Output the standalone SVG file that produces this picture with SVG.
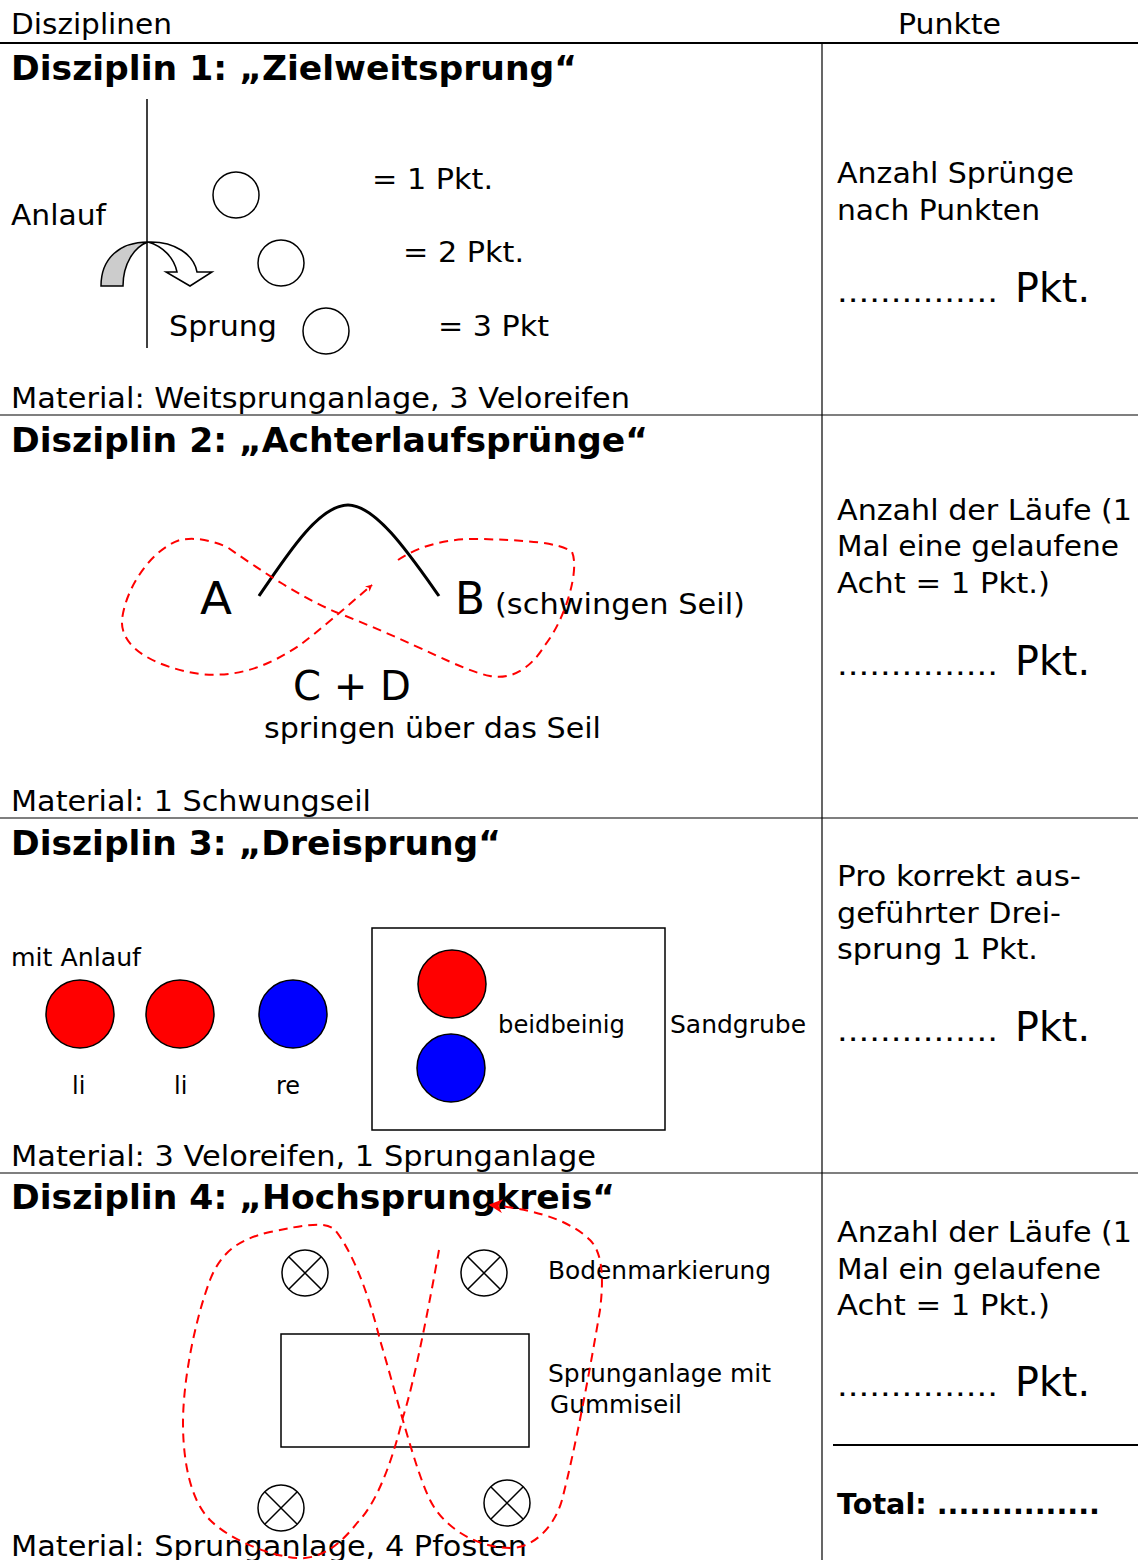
<svg xmlns="http://www.w3.org/2000/svg" width="1138" height="1560" viewBox="0 0 1138 1560">
<defs>
<style>
text{font-family:"DejaVu Sans","Verdana",sans-serif;fill:#000}
.hd{font-family:"DejaVu Sans Condensed","DejaVu Sans",sans-serif;font-size:28px}
.tt{font-weight:bold;font-size:33px}
.t{font-size:28px}
.s{font-size:24px}
.pk{font-size:40px}
.grid{stroke:#000;stroke-width:1.2;fill:none}
.ol{stroke:#000;stroke-width:1.5;fill:none}
.dash{stroke:#f00;stroke-width:2;fill:none;stroke-dasharray:9 6}
</style>
<marker id="ra" viewBox="0 0 10 10" refX="9" refY="5" markerWidth="7" markerHeight="7" markerUnits="userSpaceOnUse" orient="auto">
<path d="M0,0 L10,5 L0,10 L3,5 Z" fill="#f00"/>
</marker>
<marker id="rb" viewBox="0 0 10 10" refX="9" refY="5" markerWidth="14" markerHeight="14" markerUnits="userSpaceOnUse" orient="auto">
<path d="M0,0 L10,5 L0,10 L3,5 Z" fill="#f00"/>
</marker>
</defs>
<rect width="1138" height="1560" fill="#fff"/>

<g id="table">
<text class="hd" x="11" y="34" textLength="161" lengthAdjust="spacingAndGlyphs">Disziplinen</text>
<text class="hd" x="898" y="34" textLength="103" lengthAdjust="spacingAndGlyphs">Punkte</text>
<line x1="0" y1="43" x2="1138" y2="43" stroke="#000" stroke-width="2"/>
<line class="grid" x1="822" y1="43" x2="822" y2="1560"/>
<line class="grid" x1="0" y1="415" x2="1138" y2="415"/>
<line class="grid" x1="0" y1="818" x2="1138" y2="818"/>
<line class="grid" x1="0" y1="1173" x2="1138" y2="1173"/>
<line x1="833" y1="1445" x2="1138" y2="1445" stroke="#000" stroke-width="2"/>
</g>

<g id="disziplin1">
<text class="tt" x="11" y="80" textLength="566" lengthAdjust="spacingAndGlyphs">Disziplin 1: „Zielweitsprung“</text>
<line class="ol" x1="147" y1="99" x2="147" y2="348"/>
<circle class="ol" cx="236" cy="195" r="23"/>
<circle class="ol" cx="281" cy="263" r="23"/>
<circle class="ol" cx="326" cy="331" r="23"/>
<text class="t" x="372" y="189" textLength="121" lengthAdjust="spacingAndGlyphs">= 1 Pkt.</text>
<text class="t" x="403" y="262" textLength="121" lengthAdjust="spacingAndGlyphs">= 2 Pkt.</text>
<text class="t" x="438" y="336" textLength="111" lengthAdjust="spacingAndGlyphs">= 3 Pkt</text>
<text class="t" x="11" y="225" textLength="95" lengthAdjust="spacingAndGlyphs">Anlauf</text>
<text class="t" x="169" y="336" textLength="108" lengthAdjust="spacingAndGlyphs">Sprung</text>
<path d="M101,286 C101,258 120,242 148,242 C134,247 123,264 123,286 Z" fill="#ccc" stroke="#000" stroke-width="1.5"/>
<path d="M148,242 C175,241 194,255 197,272 L212,272 L190,286 L166,272 L177,272 C174,257 162,246 148,242 Z" fill="#fff" stroke="#000" stroke-width="1.5"/>
<text class="t" x="11" y="408" textLength="619" lengthAdjust="spacingAndGlyphs">Material: Weitsprunganlage, 3 Veloreifen</text>
</g>

<g id="disziplin2">
<text class="tt" x="11" y="452" textLength="637" lengthAdjust="spacingAndGlyphs">Disziplin 2: „Achterlaufsprünge“</text>
<path d="M259,596 C290,550 320,505 348,505 C376,505 410,555 439,596" fill="none" stroke="#000" stroke-width="3"/>
<text x="200" y="614" font-size="44" textLength="32" lengthAdjust="spacingAndGlyphs">A</text>
<text x="455" y="614" font-size="44" textLength="30" lengthAdjust="spacingAndGlyphs">B</text>
<text class="t" x="495" y="614" textLength="250" lengthAdjust="spacingAndGlyphs">(schwingen Seil)</text>
<text x="293" y="700" font-size="40" textLength="118" lengthAdjust="spacingAndGlyphs">C + D</text>
<text class="t" x="264" y="738" textLength="337" lengthAdjust="spacingAndGlyphs">springen über das Seil</text>
<text class="t" x="11" y="811" textLength="360" lengthAdjust="spacingAndGlyphs">Material: 1 Schwungseil</text>
</g>

<g id="disziplin3">
<text class="tt" x="11" y="855" textLength="490" lengthAdjust="spacingAndGlyphs">Disziplin 3: „Dreisprung“</text>
<text class="s" x="11" y="966" textLength="130" lengthAdjust="spacingAndGlyphs">mit Anlauf</text>
<circle cx="80" cy="1014" r="34" fill="#f00" stroke="#000" stroke-width="1.5"/>
<circle cx="180" cy="1014" r="34" fill="#f00" stroke="#000" stroke-width="1.5"/>
<circle cx="293" cy="1014" r="34" fill="#00f" stroke="#000" stroke-width="1.5"/>
<text class="s" x="72" y="1094">li</text>
<text class="s" x="174" y="1094">li</text>
<text class="s" x="276" y="1094">re</text>
<rect class="ol" x="372" y="928" width="293" height="202"/>
<circle cx="452" cy="984" r="34" fill="#f00" stroke="#000" stroke-width="1.5"/>
<circle cx="451" cy="1068" r="34" fill="#00f" stroke="#000" stroke-width="1.5"/>
<text class="s" x="498" y="1033" textLength="127" lengthAdjust="spacingAndGlyphs">beidbeinig</text>
<text class="s" x="670" y="1033" textLength="136" lengthAdjust="spacingAndGlyphs">Sandgrube</text>
<text class="t" x="11" y="1166" textLength="585" lengthAdjust="spacingAndGlyphs">Material: 3 Veloreifen, 1 Sprunganlage</text>
</g>

<g id="disziplin4">
<text class="tt" x="11" y="1209" textLength="604" lengthAdjust="spacingAndGlyphs">Disziplin 4: „Hochsprungkreis“</text>
<g class="ol">
<circle cx="305" cy="1273" r="23"/>
<path d="M289,1257 L321,1289 M321,1257 L289,1289"/>
<circle cx="484" cy="1273" r="23"/>
<path d="M468,1257 L500,1289 M500,1257 L468,1289"/>
<circle cx="281" cy="1508" r="23"/>
<path d="M265,1492 L297,1524 M297,1492 L265,1524"/>
<circle cx="507" cy="1503" r="23"/>
<path d="M491,1487 L523,1519 M523,1487 L491,1519"/>
</g>
<rect class="ol" x="281" y="1334" width="248" height="113"/>
<text class="s" x="548" y="1279" textLength="223" lengthAdjust="spacingAndGlyphs">Bodenmarkierung</text>
<text class="s" x="548" y="1382" textLength="223" lengthAdjust="spacingAndGlyphs">Sprunganlage mit</text>
<text class="s" x="550" y="1413" textLength="132" lengthAdjust="spacingAndGlyphs">Gummiseil</text>
<text class="t" x="11" y="1556" textLength="516" lengthAdjust="spacingAndGlyphs">Material: Sprunganlage, 4 Pfosten</text>
</g>

<g id="punkte">
<text class="t" x="837" y="183" textLength="237" lengthAdjust="spacingAndGlyphs">Anzahl Sprünge</text>
<text class="t" x="837" y="220" textLength="203" lengthAdjust="spacingAndGlyphs">nach Punkten</text>
<text class="t" x="837" y="302" textLength="161" lengthAdjust="spacingAndGlyphs">...............</text>
<text class="pk" x="1015" y="302" textLength="75" lengthAdjust="spacingAndGlyphs">Pkt.</text>
<text class="t" x="837" y="520" textLength="295" lengthAdjust="spacingAndGlyphs">Anzahl der Läufe (1</text>
<text class="t" x="837" y="556" textLength="282" lengthAdjust="spacingAndGlyphs">Mal eine gelaufene</text>
<text class="t" x="837" y="593" textLength="213" lengthAdjust="spacingAndGlyphs">Acht = 1 Pkt.)</text>
<text class="t" x="837" y="675" textLength="161" lengthAdjust="spacingAndGlyphs">...............</text>
<text class="pk" x="1015" y="675" textLength="75" lengthAdjust="spacingAndGlyphs">Pkt.</text>
<text class="t" x="837" y="886" textLength="244" lengthAdjust="spacingAndGlyphs">Pro korrekt aus-</text>
<text class="t" x="837" y="923" textLength="224" lengthAdjust="spacingAndGlyphs">geführter Drei-</text>
<text class="t" x="837" y="959" textLength="201" lengthAdjust="spacingAndGlyphs">sprung 1 Pkt.</text>
<text class="t" x="837" y="1041" textLength="161" lengthAdjust="spacingAndGlyphs">...............</text>
<text class="pk" x="1015" y="1041" textLength="75" lengthAdjust="spacingAndGlyphs">Pkt.</text>
<text class="t" x="837" y="1242" textLength="295" lengthAdjust="spacingAndGlyphs">Anzahl der Läufe (1</text>
<text class="t" x="837" y="1279" textLength="264" lengthAdjust="spacingAndGlyphs">Mal ein gelaufene</text>
<text class="t" x="837" y="1315" textLength="213" lengthAdjust="spacingAndGlyphs">Acht = 1 Pkt.)</text>
<text class="t" x="837" y="1396" textLength="161" lengthAdjust="spacingAndGlyphs">...............</text>
<text class="pk" x="1015" y="1396" textLength="75" lengthAdjust="spacingAndGlyphs">Pkt.</text>
<text class="t" x="837" y="1514" font-weight="bold" textLength="263" lengthAdjust="spacingAndGlyphs">Total: ...............</text>
</g>

<g id="connectors">
<path class="dash" marker-end="url(#ra)" d="M398,560 C420,545 450,538 480,539 C520,540 560,542 572,552 C580,570 565,620 545,645 C530,670 510,680 490,676 C460,670 420,645 338,613 C300,597 260,570 227,547 C210,540 195,537 180,540 C150,550 125,590 122,620 C120,650 160,668 200,674 C240,678 270,665 300,645 C320,630 345,608 372,585"/>
<path class="dash" marker-end="url(#rb)" d="M439,1250 C430,1300 415,1380 403,1417 C395,1450 380,1500 357,1523 C340,1545 320,1560 297,1558 C270,1556 230,1540 210,1520 C190,1500 183,1460 183,1423 C183,1380 195,1320 210,1280 C220,1255 235,1240 270,1232 C300,1226 325,1220 335,1230 C355,1255 370,1300 380,1340 C395,1390 415,1470 430,1500 C445,1530 480,1548 510,1548 C535,1548 555,1525 562,1500 C575,1450 590,1370 600,1310 C605,1270 600,1250 590,1240 C575,1225 545,1210 490,1205"/>
</g>
</svg>
